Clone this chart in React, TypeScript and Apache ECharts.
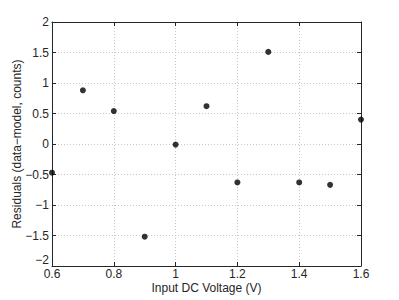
import React, { useEffect, useRef } from "react";
import * as echarts from "echarts";

const voltages = [0.6, 0.7, 0.8, 0.9, 1.0, 1.1, 1.2, 1.3, 1.4, 1.5, 1.6];
const residuals = [-0.47, 0.88, 0.54, -1.52, -0.01, 0.62, -0.63, 1.51, -0.63, -0.67, 0.4];
const xTitle = "Input DC Voltage (V)";
const yTitle = "Residuals (data\u2212model, counts)";

const fmt = (v: number) => String(Math.round(v * 10) / 10).replace("-", "\u2212");

export default function App() {
  const ref = useRef<HTMLDivElement>(null);
  useEffect(() => {
    if (!ref.current) return;
    const chart = echarts.init(ref.current, null, { renderer: "svg" });
    const font = "Helvetica, Arial, 'Liberation Sans', sans-serif";
    const axisLine = { show: true, onZero: false, lineStyle: { color: "#262626", width: 1 } };
    const tick = { show: true, inside: true, length: 4, lineStyle: { color: "#262626" } };
    chart.setOption({
      animation: false,
      backgroundColor: "#fff",
      grid: { left: 52, right: 38, top: 22, bottom: 34, show: false, containLabel: false, outerBoundsMode: "none" },
      xAxis: [
        {
          type: "value",
          min: 0.6,
          max: 1.6,
          interval: 0.2,
          name: xTitle,
          nameLocation: "middle",
          nameGap: 16,
          nameMoveOverlap: false,
          nameTextStyle: { color: "#262626", fontSize: 12, fontFamily: font, lineHeight: 12 },
          axisLine,
          axisTick: tick,
          axisLabel: { color: "#262626", fontSize: 12, fontFamily: font, margin: 2, lineHeight: 12, formatter: fmt },
          splitLine: { show: true, lineStyle: { color: "#c8c8c8", type: [1, 2], width: 1 } },
        },
        {
          type: "value",
          position: "top",
          min: 0.6,
          max: 1.6,
          interval: 0.2,
          axisLine,
          axisTick: tick,
          axisLabel: { show: false },
          splitLine: { show: false },
        },
      ],
      yAxis: [
        {
          type: "value",
          min: -2,
          max: 2,
          interval: 0.5,
          name: yTitle,
          nameLocation: "middle",
          nameGap: 29,
          nameMoveOverlap: false,
          nameTextStyle: { color: "#262626", fontSize: 12, fontFamily: font },
          axisLine,
          axisTick: tick,
          axisLabel: {
            color: "#262626",
            fontSize: 12,
            fontFamily: font,
            margin: 3,
            formatter: fmt,
            verticalAlignMinLabel: "bottom",
          },
          splitLine: { show: true, lineStyle: { color: "#c8c8c8", type: [1, 2], width: 1 } },
        },
        {
          type: "value",
          position: "right",
          min: -2,
          max: 2,
          interval: 0.5,
          axisLine,
          axisTick: tick,
          axisLabel: { show: false },
          splitLine: { show: false },
        },
      ],
      series: [
        {
          type: "scatter",
          data: voltages.map((v, i) => [v, residuals[i]]),
          symbol: "circle",
          symbolSize: 6,
          itemStyle: { color: "#000" },
          clip: false,
        },
      ],
    });
    return () => chart.dispose();
  }, []);
  return <div ref={ref} style={{ width: 399, height: 300, position: "absolute", left: 0, top: 0 }} />;
}
